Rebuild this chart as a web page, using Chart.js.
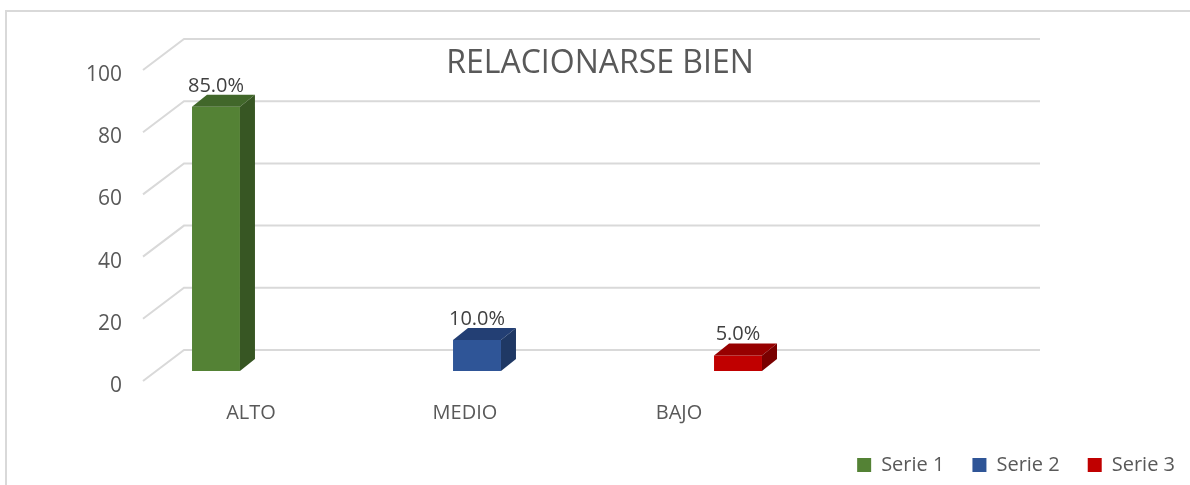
<!DOCTYPE html>
<html>
<head>
<meta charset="utf-8">
<script src="https://cdn.jsdelivr.net/npm/chart.js@4.4.1/dist/chart.umd.min.js"></script>
<style>
    html, body { margin: 0; padding: 0; background: #fff; }
    #wrap { position: relative; width: 1190px; height: 485px; }
</style>
</head>
<body>
<div id="wrap"><canvas id="grafico"></canvas></div>
<script>
const categorias = ['ALTO', 'MEDIO', 'BAJO', ''];
const nombresSeries = ['Serie 1', 'Serie 2', 'Serie 3'];
const serie1 = [85, null, null, null];
const serie2 = [null, 10, null, null];
const serie3 = [null, null, 5, null];
const yMin = 0, yMax = 100, yPaso = 20;
const titulo = 'RELACIONARSE BIEN';

// colores: frente, tapa, lado
const colFrente = ['#548235', '#2f5597', '#c00000'];
const colTapa = ['#41672a', '#233f74', '#970000'];
const colLado = ['#375623', '#1f3864', '#7a0000'];

const FUENTE = "'Open Sans', 'DejaVu Sans', sans-serif";
const GRIS = '#595959';
const PROF = { dx: 15, dy: -12 };          // profundidad de cada barra
const PARED = { front: [-13, 10], back: [28, -21] }; // desplazamiento de la pared/suelo

// marco exterior + titulo
const marcoPlugin = {
    id: 'marco',
    beforeDraw(chart) {
        const c = chart.ctx;
        c.save();
        c.strokeStyle = '#d9d9d9';
        c.lineWidth = 2;
        c.beginPath();
        c.moveTo(6, chart.height);
        c.lineTo(6, 11);
        c.lineTo(chart.width, 11);
        c.stroke();
        c.restore();
    },
    afterDraw(chart) {
        const c = chart.ctx;
        c.save();
        c.fillStyle = GRIS;
        c.font = "32px " + FUENTE;
        c.textAlign = 'center';
        c.textBaseline = 'alphabetic';
        c.fillText(titulo, chart.width / 2 + 5, 73);
        c.restore();
    }
};

// lineas de cuadricula en perspectiva
const paredPlugin = {
    id: 'pared',
    beforeDatasetsDraw(chart) {
        const c = chart.ctx, a = chart.chartArea, y = chart.scales.y;
        c.save();
        c.strokeStyle = '#d9d9d9';
        c.lineWidth = 2;
        y.ticks.forEach(t => {
            const py = y.getPixelForValue(t.value);
            c.beginPath();
            c.moveTo(a.left + PARED.front[0], py + PARED.front[1]);
            c.lineTo(a.left + PARED.back[0], py + PARED.back[1]);
            c.lineTo(a.right + PARED.back[0], py + PARED.back[1]);
            c.stroke();
        });
        c.restore();
    }
};

// caras 3D y etiquetas de valor
const barras3D = {
    id: 'barras3D',
    afterDatasetsDraw(chart) {
        const c = chart.ctx;
        c.save();
        chart.data.datasets.forEach((ds, i) => {
            const meta = chart.getDatasetMeta(i);
            meta.data.forEach((bar, j) => {
                const v = ds.data[j];
                if (v === null || v === undefined) return;
                const p = bar.getProps(['x', 'y', 'base', 'width'], true);
                const l = p.x - p.width / 2, r = p.x + p.width / 2;
                c.fillStyle = colTapa[i];
                c.beginPath();
                c.moveTo(l, p.y);
                c.lineTo(l + PROF.dx, p.y + PROF.dy);
                c.lineTo(r + PROF.dx, p.y + PROF.dy);
                c.lineTo(r, p.y);
                c.closePath();
                c.fill();
                c.fillStyle = colLado[i];
                c.beginPath();
                c.moveTo(r, p.y);
                c.lineTo(r + PROF.dx, p.y + PROF.dy);
                c.lineTo(r + PROF.dx, p.base + PROF.dy);
                c.lineTo(r, p.base);
                c.closePath();
                c.fill();

                c.fillStyle = '#404040';
                c.font = "20px " + FUENTE;
                c.textAlign = 'center';
                c.textBaseline = 'alphabetic';
                c.fillText(v.toFixed(1) + '%', p.x, p.y - 15);
            });
        });
        c.restore();
    }
};

const PLOT_BOTTOM = 371;
const PLOT_LEFT = 156;
const PLOT_RIGHT = 1012;

new Chart(document.getElementById('grafico'), {
    type: 'bar',
    data: {
        labels: categorias,
        datasets: [serie1, serie2, serie3].map((d, i) => ({
            label: nombresSeries[i],
            data: d,
            backgroundColor: colFrente[i],
            borderWidth: 0,
            categoryPercentage: 0.659,
            barPercentage: 1.02
        }))
    },
    options: {
        responsive: true, maintainAspectRatio: false, animation: false,
        events: [],
        layout: { padding: { top: 60, left: 0, right: -13, bottom: 0 } },
        scales: {
            x: {
                grid: { display: false, drawTicks: false },
                border: { display: false },
                ticks: { color: GRIS, font: { family: FUENTE, size: 20 }, padding: 30, labelOffset: -12 },
                afterFit: s => { s.height = s.chart.height - PLOT_BOTTOM - s.chart.legend.height; }
            },
            y: {
                min: yMin, max: yMax,
                grid: { display: false, drawTicks: false },
                border: { display: false },
                ticks: { stepSize: yPaso, color: GRIS, font: { family: FUENTE, size: 21 }, padding: 34, labelOffset: 15 },
                afterFit: s => { s.width = PLOT_LEFT; }
            },
            relleno: {
                type: 'linear', position: 'right',
                grid: { display: false, drawTicks: false },
                border: { display: false },
                ticks: { display: false },
                afterFit: s => { s.width = s.chart.width + 13 - PLOT_RIGHT; }
            }
        },
        plugins: {
            legend: {
                position: 'bottom', align: 'end',
                labels: { boxWidth: 14, boxHeight: 14, padding: 28, color: GRIS, font: { family: FUENTE, size: 20 } }
            },
            tooltip: { enabled: false }
        }
    },
    plugins: [marcoPlugin, paredPlugin, barras3D]
});
</script>
</body>
</html>
